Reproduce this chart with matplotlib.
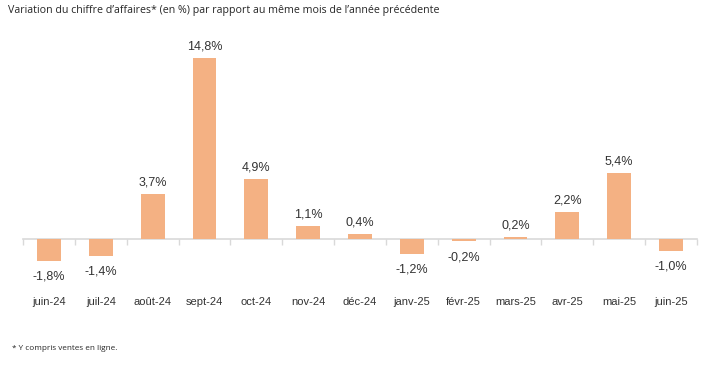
import matplotlib
matplotlib.use("Agg")
import matplotlib.pyplot as plt
import numpy as np

months = ["juin-24", "juil-24", "août-24", "sept-24", "oct-24", "nov-24", "déc-24",
          "janv-25", "févr-25", "mars-25", "avr-25", "mai-25", "juin-25"]
variation = [-1.8, -1.4, 3.7, 14.8, 4.9, 1.1, 0.4, -1.2, -0.2, 0.2, 2.2, 5.4, -1.0]

bar_color = "#F4B183"
axis_color = "#D9D9D9"

plt.rcParams["font.family"] = ["Liberation Sans", "DejaVu Sans"]

fig = plt.figure(figsize=(7.04, 3.70), dpi=100)
ax = fig.add_axes([0.0327, 0.216, 0.9573, 0.676])

x = np.arange(len(months))
ax.bar(x, variation, width=0.46, color=bar_color, zorder=2)

for xi, v in zip(x, variation):
    label = f"{v:.1f}%".replace(".", ",")
    if v >= 0:
        ax.annotate(label, (xi, v), xytext=(0, 4), textcoords="offset points",
                    ha="center", va="bottom", fontsize=9, color="#333333")
    else:
        ax.annotate(label, (xi, v), xytext=(0, -7), textcoords="offset points",
                    ha="center", va="top", fontsize=9, color="#333333")

ax.set_xlim(-0.5, len(months) - 0.5)
ax.set_ylim(-4.18, 16.31)

for s in ["top", "right", "left"]:
    ax.spines[s].set_visible(False)
ax.spines["bottom"].set_position(("data", 0))
ax.spines["bottom"].set_color(axis_color)
ax.spines["bottom"].set_linewidth(1.2)
ax.spines["bottom"].set_zorder(1)

ax.set_yticks([])
ax.set_xticks(x)
ax.set_xticklabels(months)
ax.set_xticks(np.arange(len(months) + 1) - 0.5, minor=True)
ax.tick_params(axis="x", which="major", length=0, pad=42, labelsize=8, labelcolor="#333333")
ax.tick_params(axis="x", which="minor", length=4, width=1, color=axis_color)

fig.text(0.011, 0.972, "Variation du chiffre d\u2019affaires* (en %) par rapport au même mois de l\u2019année précédente",
         fontsize=7.7, family=["Open Sans", "DejaVu Sans"], color="#262626", va="center", ha="left")
fig.text(0.017, 0.058, "* Y compris ventes en ligne.", fontsize=5.9,
         family=["Open Sans", "DejaVu Sans"], color="#262626", va="center", ha="left")

fig.savefig("out.png", dpi=100)
